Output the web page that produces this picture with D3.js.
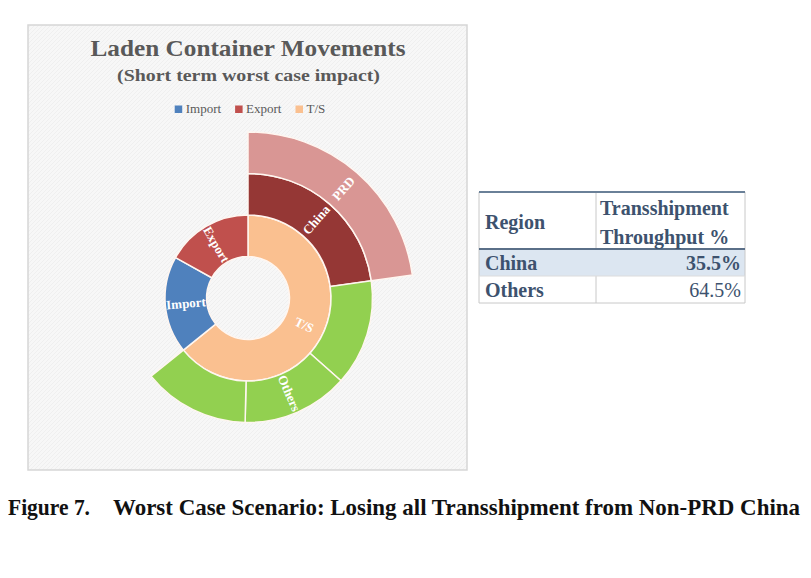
<!DOCTYPE html>
<html>
<head>
<meta charset="utf-8">
<script src="https://cdn.jsdelivr.net/npm/d3@7"></script>
<style>
  html, body { margin: 0; padding: 0; background: #ffffff; }
  svg { display: block; }
</style>
</head>
<body>
<svg id="chart" width="811" height="578"></svg>
<script>
// ---------------- DATA ----------------
const chartTitle = "Laden Container Movements";
const chartSubtitle = "(Short term worst case impact)";
const flowTypes = ["T/S", "Import", "Export"];          // inner ring, clockwise from 12 o'clock
const flowShares = [64.2, 18.9, 16.9];                   // % of laden movements
const tsRegions = ["China", "Others"];                   // second ring (T/S breakdown)
const tsRegionShares = [35.5, 64.5];                     // % of transshipment
const othersPartShares = [33.3, 33.3, 33.4];             // sub-segments of "Others"
const chinaSub = ["PRD"];                                // outer ring under China
const legendLabels = ["Import", "Export", "T/S"];
const tableHeader = ["Region", ["Transshipment", "Throughput %"]];
const tableRegions = ["China", "Others"];
const tableValues = ["35.5%", "64.5%"];
const captionLabel = "Figure 7.";
const captionText = "Worst Case Scenario: Losing all Transshipment from Non-PRD China";

// ---------------- COLOURS ----------------
const colors = {
  "Import": "#4f81bd", "Export": "#c0504d", "T/S": "#fac090",
  "China": "#953735", "Others": "#92d050", "PRD": "#d99694"
};
const serif = "'Liberation Serif', 'Times New Roman', serif";
const textGray = "#595959";
const tableInk = "#3d526e";

const svg = d3.select("#chart");

// background texture pattern
const defs = svg.append("defs");
const pat = defs.append("pattern").attr("id", "hatch").attr("patternUnits", "userSpaceOnUse")
  .attr("width", 4).attr("height", 4);
pat.append("rect").attr("width", 4).attr("height", 4).attr("fill", "#f7f7f7");
pat.append("path").attr("d", "M0,4 L4,0").attr("stroke", "#efefef").attr("stroke-width", 1);

// chart frame
svg.append("rect").attr("x", 28).attr("y", 25).attr("width", 439).attr("height", 445)
  .attr("fill", "url(#hatch)").attr("stroke", "#d6d6d6").attr("stroke-width", 1.5);

// title
svg.append("text").attr("x", 248).attr("y", 56).attr("text-anchor", "middle")
  .attr("font-family", serif).attr("font-weight", "bold").attr("font-size", 24)
  .attr("fill", textGray).attr("textLength", 315).attr("lengthAdjust", "spacingAndGlyphs")
  .text(chartTitle);
svg.append("text").attr("x", 248.5).attr("y", 81).attr("text-anchor", "middle")
  .attr("font-family", serif).attr("font-weight", "bold").attr("font-size", 17.5)
  .attr("fill", textGray).attr("textLength", 263).attr("lengthAdjust", "spacingAndGlyphs")
  .text(chartSubtitle);

// legend
const legend = svg.append("g");
let lx = 0;
legendLabels.forEach((lab, i) => {
  const g = legend.append("g").attr("transform", `translate(${lx},0)`);
  g.append("rect").attr("x", 0).attr("y", -7.5).attr("width", 7.5).attr("height", 7.5).attr("fill", colors[lab]);
  const t = g.append("text").attr("x", 11).attr("y", 0).attr("font-family", serif)
    .attr("font-size", 13).attr("fill", textGray).text(lab);
  lx += 11 + t.node().getComputedTextLength() + 14;
});
const legendW = lx - 14;
legend.attr("transform", `translate(${250 - legendW / 2},113)`);

// ---------------- SUNBURST ----------------
const cx = 248, cy = 298;
const ringWidth = 41.5;

const rootData = {
  name: "root",
  children: flowTypes.map((ft, i) => {
    if (ft === "T/S") {
      return {
        name: ft,
        children: tsRegions.flatMap((r, j) => {
          const regionVal = flowShares[i] * tsRegionShares[j] / 100;
          if (r === "China") {
            return [{ name: r, children: chinaSub.map(s => ({ name: s, value: regionVal })) }];
          }
          return othersPartShares.map((p, k) => ({
            name: r, part: k, value: regionVal * p / 100
          }));
        })
      };
    }
    return { name: ft, value: flowShares[i] };
  })
};

const root = d3.hierarchy(rootData).sum(d => d.value || 0);
d3.partition().size([2 * Math.PI, 4])(root);

const radius = d3.scaleLinear().domain([0, 4]).range([0, ringWidth * 4]);
const arc = d3.arc()
  .startAngle(d => d.x0).endAngle(d => d.x1)
  .innerRadius(d => radius(d.y0)).outerRadius(d => radius(d.y1));

const gSun = svg.append("g").attr("transform", `translate(${cx},${cy})`);
const nodes = root.descendants().filter(d => d.depth > 0);

gSun.selectAll("path").data(nodes).join("path")
  .attr("d", arc)
  .attr("fill", d => colors[d.data.name])
  .attr("stroke", "#fff6f0").attr("stroke-width", 1.5);

// labels
const labelNodes = nodes.filter(d => d.data.part === undefined || d.data.part === 1);
gSun.selectAll("text").data(labelNodes).join("text")
  .attr("transform", d => {
    const a = (d.x0 + d.x1) / 2;
    const r = (radius(d.y0) + radius(d.y1)) / 2;
    const deg = a * 180 / Math.PI;
    const x = Math.sin(a) * r, y = -Math.cos(a) * r;
    const rot = deg <= 180 ? deg - 90 : deg - 270;
    return `translate(${x},${y}) rotate(${rot})`;
  })
  .attr("text-anchor", "middle").attr("dy", "0.35em")
  .attr("font-family", serif).attr("font-weight", "bold").attr("font-size", 13)
  .attr("fill", "#ffffff")
  .text(d => d.data.name);

// ---------------- TABLE ----------------
const tX0 = 479, tX1 = 745, tColX = 596;
const tY0 = 192, tHeadBottom = 249, rowH = 27;
const tbl = svg.append("g");
// row fills
tableRegions.forEach((r, i) => {
  tbl.append("rect").attr("x", tX0).attr("y", tHeadBottom + i * rowH)
    .attr("width", tX1 - tX0).attr("height", rowH)
    .attr("fill", i === 0 ? "#dce6f1" : "#ffffff");
});
tbl.append("rect").attr("x", tX0).attr("y", tY0).attr("width", tX1 - tX0)
  .attr("height", tHeadBottom - tY0).attr("fill", "#ffffff");
// light grid lines
const light = "#c8c8c8";
const tBottom = tHeadBottom + tableRegions.length * rowH;
tbl.append("line").attr("x1", tX0).attr("x2", tX0).attr("y1", tY0).attr("y2", tBottom).attr("stroke", light);
tbl.append("line").attr("x1", tX1).attr("x2", tX1).attr("y1", tY0).attr("y2", tBottom).attr("stroke", light);
tbl.append("line").attr("x1", tColX).attr("x2", tColX).attr("y1", tY0).attr("y2", tHeadBottom).attr("stroke", light);
tbl.append("line").attr("x1", tColX).attr("x2", tColX).attr("y1", tHeadBottom + rowH).attr("y2", tBottom).attr("stroke", light);
tbl.append("line").attr("x1", tX0).attr("x2", tX1).attr("y1", tHeadBottom + rowH).attr("y2", tHeadBottom + rowH).attr("stroke", "#dcdcdc");
tbl.append("line").attr("x1", tX0).attr("x2", tX1).attr("y1", tBottom).attr("y2", tBottom).attr("stroke", light);
// dark rules
tbl.append("line").attr("x1", tX0).attr("x2", tX1).attr("y1", tY0).attr("y2", tY0).attr("stroke", "#6a8098").attr("stroke-width", 2);
tbl.append("line").attr("x1", tX0).attr("x2", tX1).attr("y1", tHeadBottom).attr("y2", tHeadBottom).attr("stroke", "#5a6f88").attr("stroke-width", 2);

const tFont = (sel, bold) => sel.attr("font-family", serif).attr("font-weight", bold ? "bold" : "normal")
  .attr("font-size", 20).attr("fill", tableInk);
tFont(tbl.append("text").attr("x", 485).attr("y", 229).text(tableHeader[0]), true);
tableHeader[1].forEach((line, i) => {
  tFont(tbl.append("text").attr("x", 600).attr("y", 215 + i * 29).text(line), true);
});
tableRegions.forEach((r, i) => {
  const by = tHeadBottom + i * rowH + 21;
  tFont(tbl.append("text").attr("x", 485).attr("y", by).text(r), true);
  tFont(tbl.append("text").attr("x", 741).attr("y", by).attr("text-anchor", "end").text(tableValues[i]), i === 0);
});

// ---------------- CAPTION ----------------
svg.append("text").attr("x", 8).attr("y", 515).attr("font-family", serif).attr("font-weight", "bold")
  .attr("font-size", 23).attr("fill", "#111").attr("textLength", 82).attr("lengthAdjust", "spacingAndGlyphs")
  .text(captionLabel);
svg.append("text").attr("x", 113).attr("y", 515).attr("font-family", serif).attr("font-weight", "bold")
  .attr("font-size", 23).attr("fill", "#111").attr("textLength", 687).attr("lengthAdjust", "spacingAndGlyphs")
  .text(captionText);
</script>
</body>
</html>
